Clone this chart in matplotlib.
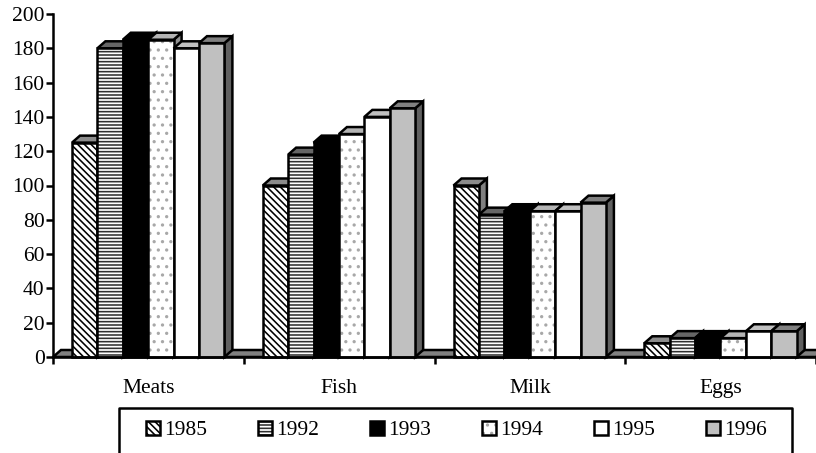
import numpy as np
import matplotlib
matplotlib.use("Agg")
import matplotlib.pyplot as plt
from matplotlib.patches import Polygon, Rectangle
from matplotlib.lines import Line2D

categories = ["Meats", "Fish", "Milk", "Eggs"]
years = ["1985", "1992", "1993", "1994", "1995", "1996"]
v1985 = [125, 100, 100, 8]
v1992 = [180, 118, 83, 11]
v1993 = [185, 125, 85, 11]
v1994 = [185, 130, 85, 11]
v1995 = [180, 140, 85, 15]
v1996 = [183, 145, 90, 15]
series = [v1985, v1992, v1993, v1994, v1995, v1996]
yticks = list(range(0, 201, 20))

fronts = ["white", "white", "black", "white", "white", "#c0c0c0"]
hatches = ["\\\\\\\\\\", "-----", None, "..", None, None]
hatch_cols = ["black", "#303030", "black", "#a8a8a8", "black", "black"]
tops = ["#8c8c8c", "#666666", "black", "#b4b4b4", "#c0c0c0", "#808080"]
sides = ["#808080", "#707070", "black", "#909090", "#a0a0a0", "#606060"]

W, H = 816, 453
LW = 1.8
plt.rcParams["font.family"] = ["Liberation Serif", "DejaVu Serif"]
plt.rcParams["hatch.linewidth"] = 1.15

fig = plt.figure(figsize=(W / 100, H / 100), dpi=100)
ax = fig.add_axes([53 / W, 1 - 357 / H, (W - 53) / W, (357 - 14) / H])
ax.set_xlim(0, 4)
ax.set_ylim(0, 200)

# depth of the fake 3d, in data units
dx = 8 / 190.75
dy = 7 / 1.715
bw = 25.4 / 190.75
start = 19 / 190.75

def poly(pts, color, z):
    ax.add_patch(Polygon(pts, closed=True, facecolor=color, edgecolor="black",
                         linewidth=LW, zorder=z, clip_on=False, joinstyle="miter"))

# floor
poly([(0, 0), (dx, dy), (4 + dx, dy), (4, 0)], "#808080", 1)

for c in range(len(categories)):
    for s in range(len(years)):
        x = c + start + s * bw
        y = series[s][c]
        z = 2 + s * 0.1 + c
        poly([(x + bw, 0), (x + bw + dx, dy), (x + bw + dx, y + dy), (x + bw, y)], sides[s], z)
        poly([(x, y), (x + dx, y + dy), (x + bw + dx, y + dy), (x + bw, y)], tops[s], z)
        # hatch first in its own colour, outline on top
        ax.bar(x, y, bw, align="edge", facecolor=fronts[s], edgecolor=hatch_cols[s],
               hatch=hatches[s], linewidth=0, zorder=z + 0.01, clip_on=False)
        ax.bar(x, y, bw, align="edge", facecolor="none", edgecolor="black",
               linewidth=LW, zorder=z + 0.02, clip_on=False)

for sp in ["top", "right"]:
    ax.spines[sp].set_visible(False)
for sp in ["left", "bottom"]:
    ax.spines[sp].set_linewidth(LW)
    ax.spines[sp].set_zorder(20)

ax.set_yticks(yticks)
ax.set_xticks(range(5))
ax.set_xticklabels([])
ax.tick_params(axis="y", labelsize=15.5, length=5, width=LW, pad=1)
ax.tick_params(axis="x", length=5, width=LW)
for i, name in enumerate(categories):
    ax.annotate(name, (i + 0.5, 0), xytext=(0, -36), textcoords="offset pixels",
                ha="center", va="baseline", fontsize=15.5, annotation_clip=False)

# legend box runs off the bottom of the picture
def fx(p):
    return p / W

def fy(p):
    return 1 - p / H

fig.add_artist(Line2D([fx(119), fx(119), fx(792), fx(792)], [fy(453), fy(408), fy(408), fy(453)],
                      color="black", linewidth=LW))
for s, year in enumerate(years):
    x0 = 146 + s * 112
    fig.add_artist(Rectangle((fx(x0), fy(435)), 14 / W, 14 / H, transform=fig.transFigure,
                             facecolor=fronts[s], edgecolor=hatch_cols[s], hatch=hatches[s], linewidth=0))
    fig.add_artist(Rectangle((fx(x0), fy(435)), 14 / W, 14 / H, transform=fig.transFigure,
                             facecolor="none", edgecolor="black", linewidth=LW))
    fig.text(fx(x0 + 18.5), fy(435), year, ha="left", va="baseline", fontsize=15.5)

fig.savefig("out.png", dpi=100)
